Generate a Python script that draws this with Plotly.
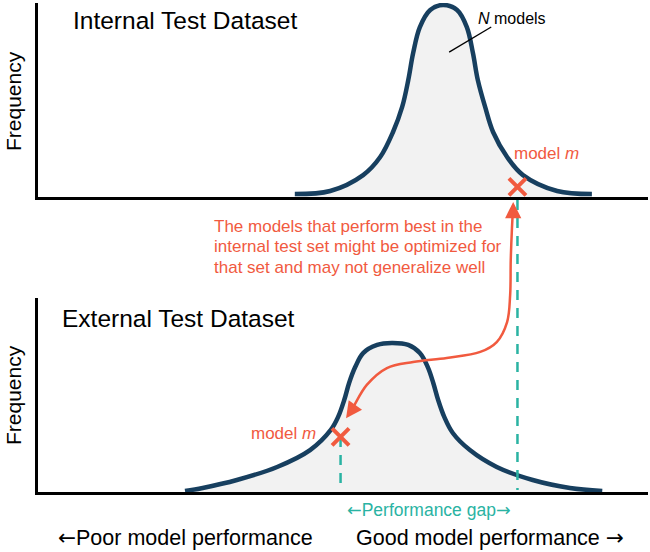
import plotly.graph_objects as go

# performance axis runs 0..100, frequency axis 0..100 in each panel
internal_x = [42.1, 47.9, 53.3, 56.1, 58.2, 59.7, 60.7, 61.5, 62.6, 64.3, 66.4,
              68.7, 70.3, 71.3, 72.1, 73.3, 74.6, 76.9, 79.5, 85.1, 90.8]
internal_y = [1.5, 3.1, 11.3, 20.6, 33.5, 46.4, 60.3, 74.2, 87.6, 96.4, 99.0,
              96.4, 87.6, 74.2, 60.3, 46.4, 33.5, 20.6, 11.3, 3.1, 1.5]

external_x = [24.1, 27.0, 32.6, 39.2, 44.6, 48.0, 49.2, 50.2, 51.0, 52.0, 53.3, 55.6, 58.0,
              60.7, 62.6, 63.9, 64.8, 65.6, 66.6, 68.0, 70.8, 75.2, 81.1, 87.2, 92.5]
external_y = [0.5, 2.1, 6.2, 12.9, 21.6, 32.0, 38.7, 47.4, 56.2, 64.4, 71.6, 75.8, 76.8,
              75.8, 71.6, 64.4, 56.2, 47.4, 38.7, 30.4, 21.6, 12.9, 6.2, 2.1, 0.5]

# model m: score in each test set
model_m_internal = [78.6, 5.2]
model_m_external = [49.6, 28.4]

# "N models" leader line (internal panel units)
leader_x = [67.4, 74.3]
leader_y = [74.7, 87.6]

# curved arrow from internal to external (x: performance, y: external-panel units)
arrow_x = [77.9, 77.7, 77.5, 77.4, 76.9, 75.2, 72.5, 67.0, 61.5, 57.2, 53.9, 51.6, 50.8]
arrow_y = [147.9, 136.1, 119.6, 101.5, 87.6, 77.3, 72.2, 69.1, 67.0, 63.9, 55.2, 43.3, 39.2]

note_lines = [
    "The models that perform best in the",
    "internal test set might be optimized for",
    "that set and may not generalize well",
]

W, H = 650, 552
X0, X1 = 38, 648
TOP_BASE, TOP_TOP = 197, 3
BOT_BASE, BOT_TOP = 492, 298

NAVY = "#173f5f"
FILL = "#f2f2f2"
RED = "#f15a3f"
TEAL = "#2ab3a3"
FONT = "Liberation Sans, Arial, sans-serif"
LARR = '<span style="font-family:DejaVu Sans">←</span>'
RARR = '<span style="font-family:DejaVu Sans">→</span>'

ppu = (BOT_BASE - BOT_TOP) / 100
top_offset = (BOT_BASE - TOP_BASE) / ppu


def P(xpx, ypx):
    return xpx / W, 1 - ypx / H


fig = go.Figure()

fig.add_trace(
    go.Scatter(
        x=internal_x, y=internal_y, xaxis="x", yaxis="y",
        mode="lines", fill="tozeroy", fillcolor=FILL,
        line=dict(color=NAVY, width=4.5, shape="spline")
    )
)

fig.add_trace(
    go.Scatter(
        x=leader_x, y=leader_y, xaxis="x", yaxis="y",
        mode="lines", line=dict(color="black", width=1.3)
    )
)

fig.add_trace(
    go.Scatter(
        x=[model_m_internal[0]], y=[model_m_internal[1]], xaxis="x", yaxis="y",
        mode="markers",
        marker=dict(symbol="x-thin", size=17, line=dict(color=RED, width=4))
    )
)

fig.add_trace(
    go.Scatter(
        x=external_x, y=external_y, xaxis="x2", yaxis="y2",
        mode="lines", fill="tozeroy", fillcolor=FILL,
        line=dict(color=NAVY, width=4.5, shape="spline")
    )
)

fig.add_trace(
    go.Scatter(
        x=[model_m_external[0], model_m_external[0]], y=[model_m_external[1], 0.8],
        xaxis="x2", yaxis="y2", mode="lines",
        line=dict(color=TEAL, width=2.5, dash="10px,8px")
    )
)

fig.add_trace(
    go.Scatter(
        x=[model_m_external[0]], y=[model_m_external[1]], xaxis="x2", yaxis="y2",
        mode="markers",
        marker=dict(symbol="x-thin", size=17, line=dict(color=RED, width=4))
    )
)

# overlay spanning both panels
fig.add_trace(
    go.Scatter(
        x=[model_m_internal[0], model_m_internal[0]], y=[top_offset - 1.5, 1],
        xaxis="x3", yaxis="y3", mode="lines",
        line=dict(color=TEAL, width=2.5, dash="10px,8px")
    )
)

fig.add_trace(
    go.Scatter(
        x=arrow_x, y=arrow_y, xaxis="x3", yaxis="y3", mode="lines",
        line=dict(color=RED, width=2.5, shape="spline")
    )
)

axis_style = dict(
    range=[0, 100], showline=True, linecolor="black", linewidth=2.5,
    showticklabels=False, ticks="", showgrid=False, zeroline=False, fixedrange=True
)
hidden = dict(visible=False, fixedrange=True)

xdom = [X0 / W, X1 / W]
fig.update_layout(
    width=W, height=H,
    margin=dict(l=0, r=0, t=0, b=0),
    paper_bgcolor="white", plot_bgcolor="rgba(0,0,0,0)",
    showlegend=False,
    font=dict(family=FONT),
    xaxis=dict(domain=xdom, anchor="y", **axis_style),
    yaxis=dict(domain=[1 - TOP_BASE / H, 1 - TOP_TOP / H], anchor="x", **axis_style),
    xaxis2=dict(domain=xdom, anchor="y2", **axis_style),
    yaxis2=dict(domain=[1 - BOT_BASE / H, 1 - BOT_TOP / H], anchor="x2", **axis_style),
    xaxis3=dict(domain=xdom, anchor="y3", range=[0, 100], **hidden),
    yaxis3=dict(domain=[0, 1], anchor="x3",
                range=[-(H - BOT_BASE) / ppu, BOT_BASE / ppu], **hidden),
)

annotations = []

# arrow heads
annotations.append(dict(
    x=arrow_x[0], y=arrow_y[0] + 1.6, xref="x3", yref="y3", text="",
    showarrow=True, ax=0, ay=14, arrowhead=2, arrowsize=1.3,
    arrowwidth=2.5, arrowcolor=RED
))
annotations.append(dict(
    x=arrow_x[-1] - 0.3, y=arrow_y[-1] - 1.2, xref="x3", yref="y3", text="",
    showarrow=True, ax=7, ay=-10, arrowhead=2, arrowsize=1.3,
    arrowwidth=2.5, arrowcolor=RED
))


def label(text, xpx, ypx, size, color="black", xanchor="left", angle=0):
    x, y = P(xpx, ypx)
    annotations.append(dict(
        x=x, y=y, xref="paper", yref="paper", text=text, showarrow=False,
        xanchor=xanchor, yanchor="middle", textangle=angle,
        font=dict(size=size, color=color, family=FONT)
    ))


label("Internal Test Dataset", 71, 20, 24.5)
label("External Test Dataset", 60, 318, 24.5)
label("<i>N</i> models", 476, 18, 16)
label("model <i>m</i>", 512, 153, 17, RED)
label("model <i>m</i>", 318, 433, 17, RED, xanchor="right")
for i, line in enumerate(note_lines):
    label(line, 212, 226 + i * 20.5, 17, RED)
label("Frequency", 13, 101, 21, angle=-90, xanchor="center")
label("Frequency", 13, 395, 21, angle=-90, xanchor="center")
label(LARR + "Performance gap" + RARR, 429, 510, 17.5, TEAL, xanchor="center")
label(LARR + "Poor model performance", 56, 537.5, 21.5)
label("Good model performance " + RARR, 354, 537.5, 21.5)

fig.update_layout(annotations=annotations)

fig.write_html(
    "out.html",
    config={"displayModeBar": False},
    post_script="document.body.style.margin='0px';"
)
